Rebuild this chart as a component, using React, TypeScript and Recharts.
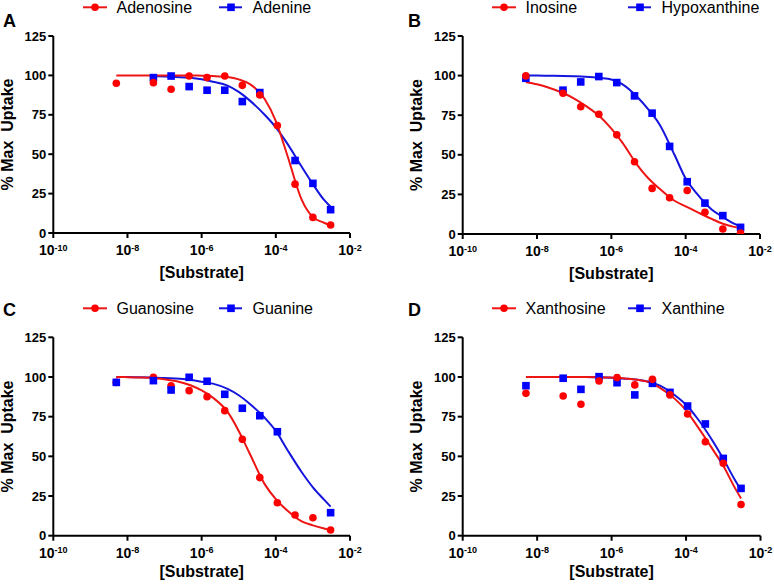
import React from 'react';
import { ComposedChart, Line, Scatter, XAxis, YAxis, Legend } from 'recharts';

// ---------- data ----------
const concentrations = [5e-9, 5e-8, 1.5e-7, 4.6e-7, 1.4e-6, 4.2e-6, 1.25e-5, 3.7e-5, 1.1e-4, 3.3e-4, 1e-3, 3e-3];
const fitConcentrations = [5e-9, 1e-8, 2e-8, 5e-8, 1e-7, 2e-7, 5e-7, 1e-6, 2e-6, 5e-6, 1e-5, 2e-5, 5e-5, 1e-4, 2e-4, 5e-4, 1e-3, 2e-3, 3e-3];
const xTicks = [1e-10, 1e-8, 1e-6, 1e-4, 1e-2];
const yTicks = [0, 25, 50, 75, 100, 125];

// Panel A
const adenosine = [95.0, 95.4, 91.2, 99.6, 98.6, 99.6, 93.7, 87.6, 68.2, 31.0, 9.9, 5.1];
const adenine = [null, 98.6, 99.6, 92.9, 90.6, 90.6, 83.4, 89.1, null, 46.0, 31.5, 14.8];
const adenosineFit = [100, 100, 100, 100, 100, 100, 100, 99.8, 99.6, 99, 97.5, 94.5, 85, 71, 50, 21, 10, 6.5, 4.6];
const adenineFit = [null, null, null, 99.5, 99.3, 99, 98.5, 97.5, 96, 93.5, 89.5, 84, 75, 67, 57, 42, 31, 21, 16.7];

// Panel B
const inosine = [99.8, 88.9, 80.3, 75.6, 62.6, 45.6, 28.8, 22.9, 27.5, 13.7, 3.2, 0.6];
const hypoxanthine = [98.3, 90.8, 96.0, 99.4, 95.6, 87.2, 76.3, 55.3, 33.0, 19.5, 11.6, 4.2];
const inosineFit = [96, 94.5, 92.5, 89, 85.5, 81, 74, 66.5, 57.5, 43.5, 35, 28.5, 21, 17.5, 14, 9.5, 6.5, 4.5, 3.6];
const hypoxanthineFit = [100, 100, 99.9, 99.8, 99.6, 99.3, 98.5, 97.5, 94.5, 86.5, 78.5, 69, 50, 35, 25.5, 15.5, 10.7, 6.5, 4.6];

// Panel C
const guanosine = [96.6, 99.8, 94.5, 91.4, 87.6, 78.8, 60.7, 36.6, 20.8, 13.0, 11.3, 3.6];
const guanine = [96.6, 97.7, 91.8, 99.8, 97.3, 89.1, 80.3, 75.6, 65.5, null, null, 14.5];
const guanosineFit = [100, 99.9, 99.7, 99.3, 98.5, 97.5, 94.8, 91.5, 87, 78, 66, 51.5, 32.5, 23, 16, 9, 6.5, 4.5, 3.5];
const guanineFit = [100, 100, 99.8, 99.6, 99.4, 99, 98.3, 97, 95.8, 92.5, 88.5, 83, 74.3, 66, 54.5, 40, 30.5, 22.7, 18.3];

// Panel D
const xanthosine = [89.7, 88.0, 82.8, 97.5, 99.6, 95.0, 98.5, 88.7, 76.7, 59.2, 45.6, 19.7];
const xanthine = [94.5, 99.2, 92.2, 100.2, 96.4, 88.7, 96.0, 90.3, 81.7, 70.4, 48.7, 29.8];
const xanthosineFit = [100, 100, 100, 100, 100, 100, 99.9, 99.6, 99.2, 98.2, 96.8, 93.2, 86.2, 79, 69, 55, 44, 30.6, 23.5];
const xanthineFit = [100, 100, 100, 100, 100, 100, 99.8, 99.5, 99, 98.3, 97, 94.5, 88.5, 82.5, 74, 60.3, 48.5, 35.6, 28.8];

// ---------- styling ----------
const FONT = 'Arial, "Liberation Sans", Helvetica, sans-serif';
const RED = '#FF0000';
const BLUE = '#0000FF';
const RED_LINE = '#EE1515';
const BLUE_LINE = '#1515DD';

type Pt = { x: number; y: number };
const toPoints = (xs: number[], ys: (number | null)[]): Pt[] =>
  xs.map((x, i) => ({ x, y: ys[i] as number })).filter((p) => p.y !== null && p.y !== undefined);

const panels = [
  {
    letter: 'A', left: 0, top: 0, width: 390, height: 290,
    margin: { top: 36, right: 40, bottom: 27, left: 8 }, yAxisWidth: 45.3, xTitleDy: 44.5,
    redName: 'Adenosine', blueName: 'Adenine',
    red: adenosine, blue: adenine, redFit: adenosineFit, blueFit: adenineFit, blueOnTop: false,
  },
  {
    letter: 'B', left: 409, top: 0, width: 365, height: 290,
    margin: { top: 36, right: 14, bottom: 26, left: 8 }, yAxisWidth: 45.7, xTitleDy: 45,
    redName: 'Inosine', blueName: 'Hypoxanthine',
    red: inosine, blue: hypoxanthine, redFit: inosineFit, blueFit: hypoxanthineFit, blueOnTop: false,
  },
  {
    letter: 'C', left: 0, top: 301, width: 390, height: 283,
    margin: { top: 36.3, right: 40, bottom: 18.3, left: 8 }, yAxisWidth: 45.3, xTitleDy: 41.5,
    redName: 'Guanosine', blueName: 'Guanine',
    red: guanosine, blue: guanine, redFit: guanosineFit, blueFit: guanineFit, blueOnTop: true,
  },
  {
    letter: 'D', left: 409, top: 301, width: 365, height: 283,
    margin: { top: 36.3, right: 13.5, bottom: 18.3, left: 8 }, yAxisWidth: 45.7, xTitleDy: 41.5,
    redName: 'Xanthosine', blueName: 'Xanthine',
    red: xanthosine, blue: xanthine, redFit: xanthosineFit, blueFit: xanthineFit, blueOnTop: false,
  },
];

const letterPos = [
  { x: 3, y: 26.7 },
  { x: 408, y: 26.5 },
  { x: 3, y: 316 },
  { x: 408, y: 316 },
];

function XTick(props: any) {
  const { x, y, payload } = props;
  const exp = Math.round(Math.log10(payload.value));
  return (
    <text x={x} y={y + 15} textAnchor="middle" fontFamily={FONT} fontWeight="bold" fontSize={14} fill="#000">
      10
      <tspan fontSize={9} dy={-4.5}>{String(exp)}</tspan>
    </text>
  );
}

function XTitle(props: any) {
  const { viewBox, dy } = props;
  const vb = viewBox || { x: 53, y: 233, width: 297, height: 30 };
  return (
    <text x={vb.x + vb.width / 2} y={vb.y + dy} textAnchor="middle" fontFamily={FONT} fontWeight="bold" fontSize={16} fill="#000">
      [Substrate]
    </text>
  );
}

function YTitle(props: any) {
  const { viewBox } = props;
  const vb = viewBox || { x: 8, y: 36, width: 45, height: 197 };
  const cx = 13;
  const cy = vb.y + vb.height / 2;
  return (
    <text x={cx} y={cy} transform={`rotate(-90 ${cx} ${cy})`} textAnchor="middle" fontFamily={FONT} fontWeight="bold" fontSize={16} fill="#000" style={{ whiteSpace: 'pre' }}>
      {'% Max  Uptake'}
    </text>
  );
}

function PanelLegend(props: any) {
  const { redName, blueName, width } = props;
  const cy = 7.3;
  return (
    <svg width={width} height={20} style={{ display: 'block', overflow: 'visible' }}>
      <line x1={83} x2={107} y1={cy} y2={cy} stroke={RED_LINE} strokeWidth={2} />
      <circle cx={95} cy={cy} r={3.8} fill={RED} />
      <text x={116.5} y={cy + 6} fontFamily={FONT} fontSize={16} fill="#000">{redName}</text>
      <line x1={219} x2={242} y1={cy} y2={cy} stroke={BLUE_LINE} strokeWidth={2} />
      <rect x={231 - 3.8} y={cy - 3.8} width={7.6} height={7.6} fill={BLUE} />
      <text x={252.5} y={cy + 6} fontFamily={FONT} fontSize={16} fill="#000">{blueName}</text>
    </svg>
  );
}

const circleShape = (props: any) => <circle cx={props.cx} cy={props.cy} r={3.8} fill={RED} />;
const squareShape = (props: any) => <rect x={props.cx - 3.8} y={props.cy - 3.8} width={7.6} height={7.6} fill={BLUE} />;

function Panel({ cfg }: { cfg: any }) {
  const redPts = toPoints(concentrations, cfg.red);
  const bluePts = toPoints(concentrations, cfg.blue);
  const redFitPts = toPoints(fitConcentrations, cfg.redFit);
  const blueFitPts = toPoints(fitConcentrations, cfg.blueFit);
  const redScatter = (
    <Scatter key="rs" name={cfg.redName} data={redPts} dataKey="y" shape={circleShape} isAnimationActive={false} legendType="none" />
  );
  const blueScatter = (
    <Scatter key="bs" name={cfg.blueName} data={bluePts} dataKey="y" shape={squareShape} isAnimationActive={false} legendType="none" />
  );
  return (
    <div style={{ position: 'absolute', left: cfg.left, top: cfg.top }}>
      <ComposedChart width={cfg.width} height={cfg.height} margin={cfg.margin}>
        <XAxis
          type="number"
          dataKey="x"
          scale="log"
          domain={[1e-10, 1e-2]}
          ticks={xTicks}
          allowDataOverflow
          height={30}
          tickSize={5}
          axisLine={{ stroke: '#000', strokeWidth: 2 }}
          tickLine={{ stroke: '#000', strokeWidth: 2 }}
          tick={<XTick />}
          interval={0}
          label={<XTitle dy={cfg.xTitleDy} />}
        />
        <YAxis
          type="number"
          dataKey="y"
          domain={[0, 125]}
          ticks={yTicks}
          allowDataOverflow
          width={cfg.yAxisWidth}
          tickSize={5}
          axisLine={{ stroke: '#000', strokeWidth: 2 }}
          tickLine={{ stroke: '#000', strokeWidth: 2 }}
          tick={{ fill: '#000', fontSize: 13, fontWeight: 'bold', fontFamily: FONT }}
          interval={0}
          label={<YTitle />}
        />
        <Legend
          layout="horizontal"
          verticalAlign="middle"
          align="center"
          wrapperStyle={{ left: 0, top: 0, width: cfg.width, height: 20 }}
          content={() => <PanelLegend redName={cfg.redName} blueName={cfg.blueName} width={cfg.width} />}
        />
        <Line data={blueFitPts} dataKey="y" type="monotone" dot={false} stroke={BLUE_LINE} strokeWidth={2} isAnimationActive={false} legendType="none" />
        <Line data={redFitPts} dataKey="y" type="monotone" dot={false} stroke={RED_LINE} strokeWidth={2} isAnimationActive={false} legendType="none" />
        {cfg.blueOnTop ? [redScatter, blueScatter] : [blueScatter, redScatter]}
      </ComposedChart>
    </div>
  );
}

export default function App() {
  return (
    <div style={{ position: 'absolute', left: 0, top: 0, width: 774, height: 584, background: '#fff', overflow: 'hidden' }}>
      {panels.map((p) => (
        <Panel key={p.letter} cfg={p} />
      ))}
      <svg width={774} height={584} style={{ position: 'absolute', left: 0, top: 0, pointerEvents: 'none' }}>
        {panels.map((p, i) => (
          <text key={p.letter} x={letterPos[i].x} y={letterPos[i].y} fontFamily={FONT} fontWeight="bold" fontSize={18} fill="#000">
            {p.letter}
          </text>
        ))}
      </svg>
    </div>
  );
}
